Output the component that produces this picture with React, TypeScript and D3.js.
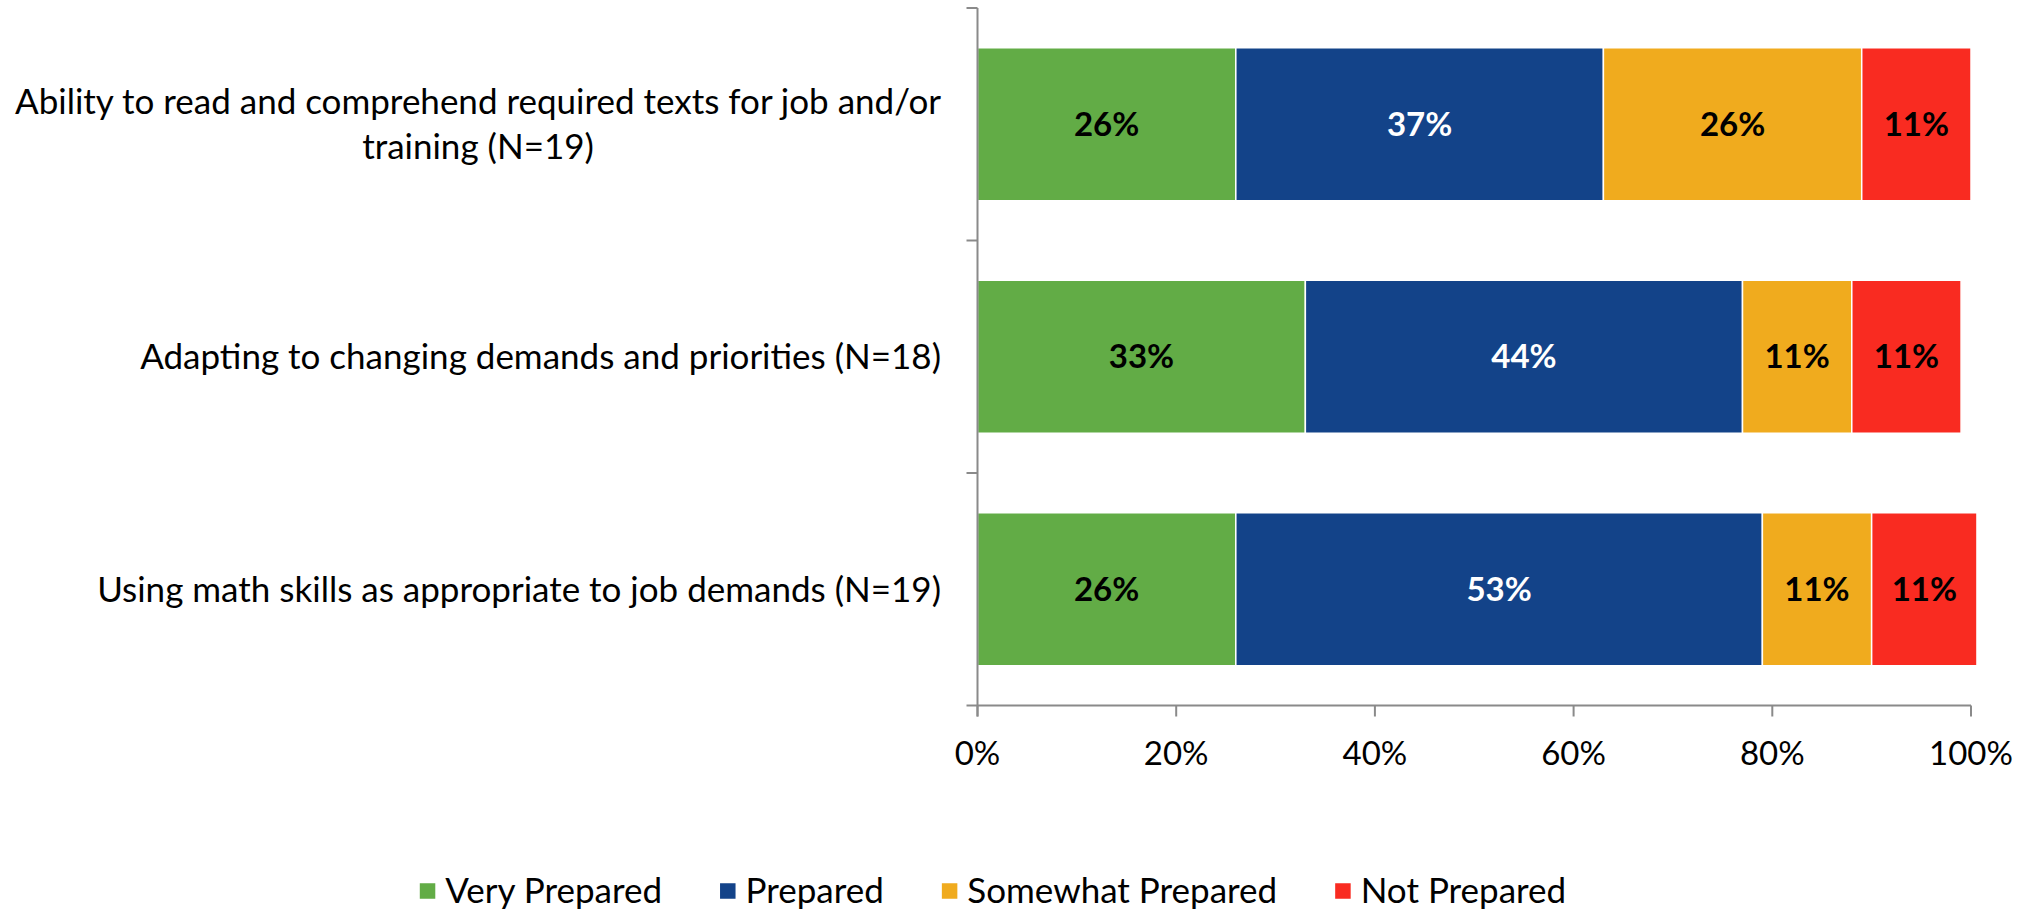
import React, { useEffect, useRef } from "react";
import * as d3 from "d3";

const categoryLines: string[][] = [
  ["Ability to read and comprehend required texts for job and/or", "training (N=19)"],
  ["Adapting to changing demands and priorities (N=18)"],
  ["Using math skills as appropriate to job demands (N=19)"],
];
const seriesNames = ["Very Prepared", "Prepared", "Somewhat Prepared", "Not Prepared"];
const veryPrepared = [26, 33, 26];
const prepared = [37, 44, 53];
const somewhatPrepared = [26, 11, 11];
const notPrepared = [11, 11, 10.6];
const tickValues = [0, 20, 40, 60, 80, 100];
const seriesColors = ["#62ac46", "#134389", "#f0ab1e", "#f92b21"];
const labelColors = ["#000", "#fff", "#000", "#000"];

const FONT = "Lato, 'Open Sans', sans-serif";
const FS = 33;
const FS_LABEL = 35;

export default function App() {
  const ref = useRef<SVGSVGElement | null>(null);

  useEffect(() => {
    const svg = d3.select(ref.current);
    svg.selectAll("*").remove();
    const x0 = 977.5, x1 = 1971, yTop = 8, yBot = 705.5;
    const x = d3.scaleLinear().domain([0, 100]).range([x0, x1]);
    const cats = categoryLines.map((l) => l.join(" "));
    const y = d3.scaleBand<string>().domain(cats).range([yTop, yBot]).paddingInner(0.342).paddingOuter(0.171);
    const series = [veryPrepared, prepared, somewhatPrepared, notPrepared];
    const axisColor = "#8a8a8a";

    const g = svg.append("g");

    // bars
    cats.forEach((c, i) => {
      let acc = 0;
      series.forEach((s, k) => {
        const v = s[i];
        const xa = x(acc), xb = x(acc + v);
        g.append("rect")
          .attr("x", xa).attr("y", y(c)!)
          .attr("width", xb - xa).attr("height", y.bandwidth())
          .attr("fill", seriesColors[k])
          .attr("stroke", "#fff").attr("stroke-width", 1.5);
        g.append("text")
          .attr("x", (xa + xb) / 2)
          .attr("y", y(c)! + y.bandwidth() / 2)
          .attr("dy", "0.35em")
          .attr("text-anchor", "middle")
          .attr("font-family", FONT).attr("font-size", FS).attr("font-weight", "bold")
          .attr("fill", labelColors[k])
          .text(Math.round(v) + "%");
        acc += v;
      });
    });

    // y axis
    g.append("line").attr("x1", x0).attr("x2", x0).attr("y1", yTop).attr("y2", yBot + 11)
      .attr("stroke", axisColor).attr("stroke-width", 2);
    const yTicks = cats.map((_, i) => yTop + y.step() * i).concat([yBot]);
    yTicks.forEach((t) => {
      g.append("line").attr("x1", x0 - 11).attr("x2", x0).attr("y1", t).attr("y2", t)
        .attr("stroke", axisColor).attr("stroke-width", 2);
    });

    // x axis
    g.append("line").attr("x1", x0).attr("x2", x1).attr("y1", yBot).attr("y2", yBot)
      .attr("stroke", axisColor).attr("stroke-width", 2);
    tickValues.forEach((t) => {
      g.append("line").attr("x1", x(t)).attr("x2", x(t)).attr("y1", yBot).attr("y2", yBot + 11)
        .attr("stroke", axisColor).attr("stroke-width", 2);
      g.append("text").attr("x", x(t)).attr("y", 753.5).attr("dy", "0.35em")
        .attr("text-anchor", "middle").attr("font-family", FONT).attr("font-size", FS)
        .attr("fill", "#000").text(t + "%");
    });

    // category labels
    const labelRight = 941;
    const lineH = 45;
    categoryLines.forEach((lines, i) => {
      const cy = y(cats[i])! + y.bandwidth() / 2;
      const temp = lines.map((l) =>
        g.append("text").attr("font-family", FONT).attr("font-size", FS_LABEL).attr("fill", "#000").text(l)
      );
      const widths = temp.map((t) => (t.node() as SVGTextElement).getComputedTextLength());
      const maxW = Math.max(...widths);
      const center = labelRight - maxW / 2;
      temp.forEach((t, j) => {
        t.attr("x", center).attr("text-anchor", "middle")
          .attr("y", cy + (j - (lines.length - 1) / 2) * lineH).attr("dy", "0.35em");
      });
    });

    // legend
    const legY = 891;
    const sq = 15.5, gapSq = 10, gapItem = 58;
    const legG = svg.append("g");
    let cx = 0;
    seriesNames.forEach((name, k) => {
      legG.append("rect").attr("x", cx).attr("y", legY - sq / 2).attr("width", sq).attr("height", sq)
        .attr("fill", seriesColors[k]);
      const t = legG.append("text").attr("x", cx + sq + gapSq).attr("y", legY).attr("dy", "0.35em")
        .attr("font-family", FONT).attr("font-size", FS_LABEL).attr("fill", "#000").text(name);
      const w = (t.node() as SVGTextElement).getComputedTextLength();
      cx += sq + gapSq + w + gapItem;
    });
    const totalW = cx - gapItem;
    legG.attr("transform", `translate(${993 - totalW / 2},0)`);
  }, []);

  return (
    <svg ref={ref} width={2030} height={910}
      style={{ position: "absolute", left: 0, top: 0, background: "#fff" }} />
  );
}
